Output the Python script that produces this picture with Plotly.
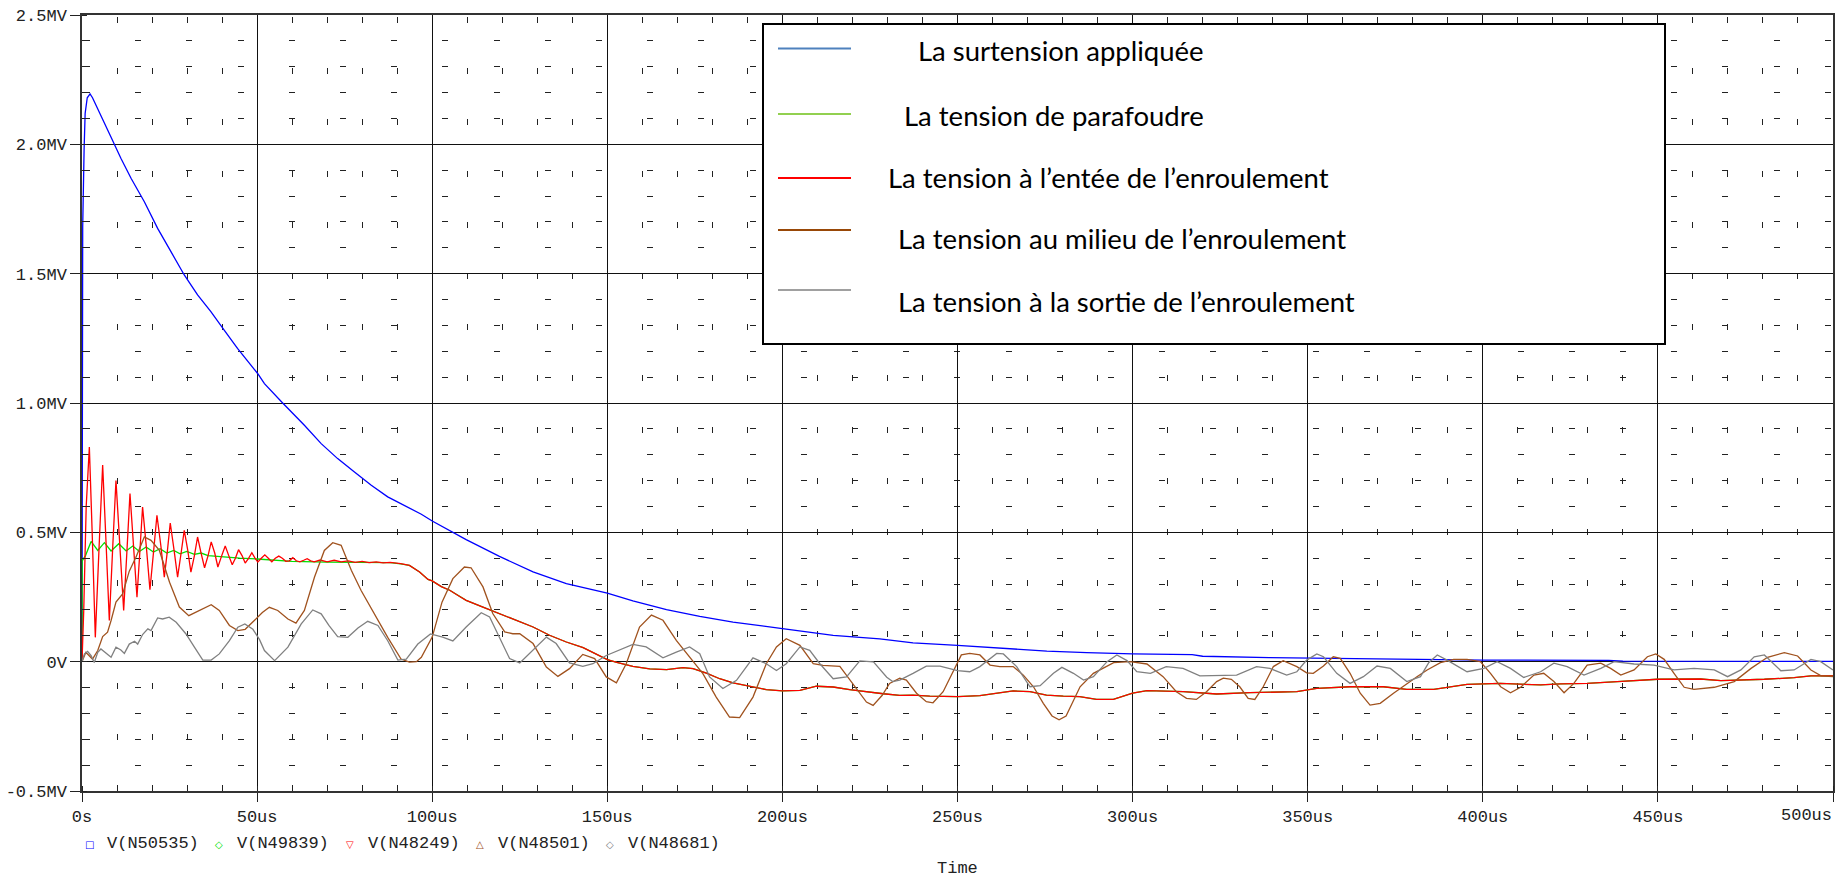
import plotly.graph_objects as go

# ---- transient simulation readings: time in microseconds, voltage in MV ----

t_surtension = [0, 0.1, 0.2, 0.6, 0.9, 1.5, 2.3, 3.0, 3.5, 5.4, 8.2, 11.1, 14.0, 17.8, 21.6,
                25.4, 29.2, 33.0, 36.8, 40.6, 44.4, 50.1, 52.1, 57.3, 63.5, 68.3, 73.0, 77.8,
                82.6, 87.3, 92.1, 96.9, 100, 109.7, 119.2, 128.8, 138.3, 150, 157.3, 166.9,
                176.4, 185.9, 200, 214.5, 227.8, 237.3, 250, 265.9, 275.5, 286.9, 300, 317,
                320, 339, 372, 400, 436, 440, 500]
v_surtension = [0, 0.9, 1.68, 1.98, 2.12, 2.18, 2.195, 2.18, 2.165, 2.113, 2.03, 1.946, 1.869,
                1.778, 1.675, 1.585, 1.495, 1.418, 1.353, 1.282, 1.211, 1.115, 1.075, 1.0,
                0.914, 0.843, 0.785, 0.733, 0.682, 0.637, 0.605, 0.57, 0.544, 0.472, 0.407,
                0.347, 0.302, 0.265, 0.235, 0.201, 0.175, 0.153, 0.128, 0.102, 0.088, 0.073,
                0.063, 0.049, 0.041, 0.035, 0.030, 0.027, 0.021, 0.016, 0.010, 0.006, 0.005,
                0.002, 0.001]

t_parafoudre = [0, 0.05, 1.0, 2.6, 4.5, 6.4, 8.3, 10.5, 12.6, 14.5, 16.4, 18.3, 20.4, 22.3,
                24.2, 26.2, 28.0, 29.9, 32.1, 34, 36, 40, 45, 50, 60, 70, 80, 88, 91, 93.5,
                96.4, 98.8, 100, 102.6, 105, 107.5, 109.7, 114.5, 119.2, 124, 128.8, 133.5,
                138.3, 143.1, 147.9, 150, 152.7, 157.3, 162.1, 166.9, 171.6, 174.5, 178.3,
                182.1, 185.9, 190.7, 195.4, 200, 205, 209.7, 214.5, 219.2, 224, 228.8, 233.5,
                237.3, 242.1, 250, 256.4, 261.1, 265.9, 270.7, 275.4, 280.2, 284.9, 289.7,
                294.5, 300, 304.1, 314.5, 324, 333.5, 346.9, 352.6, 362.1, 371.6, 378.3, 386,
                390.8, 395.5, 405, 416.5, 422.2, 429.8, 438.4, 449.9, 462.2, 468, 480.4,
                488.9, 493.7, 500]
v_parafoudre = [0, 0.39, 0.41, 0.465, 0.43, 0.46, 0.428, 0.456, 0.428, 0.447, 0.426, 0.443,
                0.424, 0.437, 0.42, 0.43, 0.417, 0.426, 0.415, 0.42, 0.41, 0.405, 0.40, 0.397,
                0.388, 0.385, 0.384, 0.383, 0.378, 0.372, 0.347, 0.318, 0.312, 0.29, 0.276,
                0.255, 0.237, 0.211, 0.186, 0.162, 0.134, 0.102, 0.076, 0.054, 0.024, 0.008,
                -0.003, -0.018, -0.028, -0.031, -0.023, -0.027, -0.044, -0.066, -0.082,
                -0.095, -0.108, -0.113, -0.111, -0.095, -0.098, -0.108, -0.117, -0.124,
                -0.130, -0.129, -0.133, -0.135, -0.131, -0.122, -0.113, -0.116, -0.129,
                -0.133, -0.135, -0.146, -0.146, -0.122, -0.112, -0.116, -0.125, -0.120,
                -0.116, -0.103, -0.097, -0.097, -0.107, -0.107, -0.097, -0.088, -0.084,
                -0.090, -0.086, -0.084, -0.077, -0.068, -0.067, -0.073, -0.068, -0.062,
                -0.055, -0.055]

t_entree = [0, 0.5, 1.2, 2.1, 2.9, 3.8, 4.9, 5.9, 6.9, 7.8, 8.8, 9.7, 10.8, 11.9, 12.8, 13.7,
            14.7, 15.7, 16.5, 17.3, 18.4, 19.4, 20.4, 21.4, 22.5, 23.5, 24.4, 25.2, 26.3,
            27.3, 28.3, 29.2, 30.2, 31.1, 32.1, 33.0, 34.0, 35.0, 36.0, 36.9, 37.9, 38.8,
            39.9, 40.9, 41.9, 42.9, 43.8, 44.7, 45.7, 46.6, 47.6, 48.5, 49.4, 50.2, 51.2,
            52.2, 53.2, 54.2, 55.2, 56.2, 57.2, 58.2, 59.2, 60.2, 61.2, 62.2, 63.3, 64.3,
            65.3, 66.3, 68, 70, 72, 74, 76, 78, 80, 82, 84, 86, 88, 90, 91, 93.5, 96.4, 98.8,
            100, 102.6, 105, 107.5, 109.7, 114.5, 119.2, 124, 128.8, 133.5, 138.3, 143.1,
            147.9, 150, 152.7, 157.3, 162.1, 166.9, 171.6, 174.5, 178.3, 182.1, 185.9,
            190.7, 195.4, 200, 205, 209.7, 214.5, 219.2, 224, 228.8, 233.5, 237.3, 242.1,
            250, 256.4, 261.1, 265.9, 270.7, 275.4, 280.2, 284.9, 289.7, 294.5, 300, 304.1,
            314.5, 324, 333.5, 346.9, 352.6, 362.1, 371.6, 378.3, 386, 390.8, 395.5, 405,
            416.5, 422.2, 429.8, 438.4, 449.9, 462.2, 468, 480.4, 488.9, 493.7, 500]
v_entree = [0, 0.2, 0.6, 0.83, 0.5, 0.094, 0.45, 0.76, 0.45, 0.159, 0.45, 0.70, 0.45, 0.198,
            0.42, 0.65, 0.45, 0.249, 0.42, 0.598, 0.44, 0.278, 0.42, 0.566, 0.45, 0.327, 0.43,
            0.536, 0.43, 0.327, 0.42, 0.508, 0.43, 0.346, 0.41, 0.482, 0.42, 0.363, 0.41,
            0.463, 0.42, 0.366, 0.41, 0.447, 0.41, 0.375, 0.40, 0.433, 0.41, 0.381, 0.40,
            0.421, 0.40, 0.385, 0.40, 0.413, 0.40, 0.386, 0.40, 0.408, 0.40, 0.388, 0.39,
            0.402, 0.39, 0.386, 0.392, 0.398, 0.39, 0.386, 0.393, 0.386, 0.392, 0.386, 0.39,
            0.384, 0.388, 0.383, 0.386, 0.382, 0.384, 0.382, 0.379, 0.372, 0.347, 0.318,
            0.312, 0.29, 0.276, 0.255, 0.237, 0.211, 0.186, 0.162, 0.134, 0.102, 0.076,
            0.054, 0.024, 0.008, -0.003, -0.018, -0.028, -0.031, -0.023, -0.027, -0.044,
            -0.066, -0.082, -0.095, -0.108, -0.113, -0.111, -0.095, -0.098, -0.108, -0.117,
            -0.124, -0.130, -0.129, -0.133, -0.135, -0.131, -0.122, -0.113, -0.116, -0.129,
            -0.133, -0.135, -0.146, -0.146, -0.122, -0.112, -0.116, -0.125, -0.120, -0.116,
            -0.103, -0.097, -0.097, -0.107, -0.107, -0.097, -0.088, -0.084, -0.090, -0.086,
            -0.084, -0.077, -0.068, -0.067, -0.073, -0.068, -0.062, -0.055, -0.055]

t_milieu = [0, 1.1, 3.0, 4.5, 5.9, 7.3, 8.3, 9.7, 11.6, 13.5, 15.4, 17.8, 19.7, 22.1, 25.0,
            27.8, 30.5, 33.5, 36.9, 39.2, 42.1, 44.5, 46.6, 49.2, 51.5, 53.5, 55.9, 58.8,
            61.1, 63.5, 66.4, 69.2, 71.6, 74.0, 76.9, 79.7, 83.5, 87.3, 91.1, 93.5, 95.5,
            96.9, 100, 102.8, 105.9, 109.2, 111.1, 114.5, 117.3, 120.7, 123, 125, 128.8,
            132.6, 135.9, 139.2, 143, 146.4, 149.7, 152.6, 155.4, 159.2, 162.6, 165.9,
            169.7, 173.5, 177.3, 181.1, 184.9, 187.8, 191.6, 195.4, 198.3, 201.1, 205,
            208.8, 211.6, 216.4, 220.2, 224, 225.9, 228.5, 230.6, 233.5, 235.4, 238.3,
            241.1, 243, 245.9, 248.8, 251.1, 253.5, 256.4, 259.3, 262.1, 265.9, 268.8,
            271.7, 274.5, 277, 279, 281, 285, 288.8, 294.6, 299.3, 304.1, 308.7, 312.5,
            315.4, 318.2, 321.1, 324, 325.9, 328.2, 330.6, 333, 334.9, 337.3, 340.2, 343,
            346.9, 349.7, 351.6, 354.5, 357.3, 359.3, 362.1, 365, 367.8, 370.7, 374.5,
            378.3, 381.2, 384.1, 387.9, 391.7, 395.5, 399.3, 402.2, 405.1, 407.9, 410.8,
            414.6, 417.4, 420.3, 423.2, 426, 429.8, 433.7, 436.5, 439.4, 443.2, 447, 449.4,
            451.8, 454.6, 457.5, 460.3, 466.1, 471.8, 476.6, 481.3, 486.1, 489.9, 493.7,
            496.6, 500]
v_milieu = [0, 0.036, 0.01, 0.043, 0.097, 0.114, 0.159, 0.23, 0.262, 0.35, 0.404, 0.482,
            0.469, 0.43, 0.307, 0.211, 0.178, 0.198, 0.22, 0.198, 0.14, 0.12, 0.125, 0.159,
            0.19, 0.21, 0.198, 0.165, 0.149, 0.198, 0.327, 0.43, 0.46, 0.45, 0.353, 0.275,
            0.185, 0.094, 0.01, -0.002, 0.0, 0.017, 0.095, 0.23, 0.321, 0.366, 0.363, 0.289,
            0.186, 0.115, 0.108, 0.108, 0.07, -0.021, -0.057, -0.027, 0.028, 0.012, -0.059,
            -0.082, -0.008, 0.134, 0.18, 0.16, 0.082, 0.018, -0.046, -0.137, -0.214,
            -0.216, -0.137, -0.008, 0.057, 0.089, 0.063, -0.008, -0.014, -0.018, -0.085,
            -0.156, -0.169, -0.13, -0.084, -0.064, -0.071, -0.122, -0.155, -0.159, -0.116,
            -0.039, 0.026, 0.032, 0.026, -0.013, -0.019, -0.019, -0.052, -0.097, -0.161,
            -0.21, -0.225, -0.21, -0.097, -0.045, -0.004, 0.0, -0.009, -0.058, -0.116,
            -0.142, -0.146, -0.116, -0.077, -0.064, -0.068, -0.097, -0.142, -0.146, -0.097,
            -0.019, 0.004, -0.019, -0.043, -0.045, -0.017, 0.019, 0.013, -0.045, -0.122,
            -0.168, -0.161, -0.122, -0.084, -0.058, -0.032, -0.004, 0.009, 0.009, 0.0,
            -0.045, -0.097, -0.12, -0.099, -0.052, -0.045, -0.077, -0.12, -0.084, -0.013,
            -0.006, -0.026, -0.052, -0.032, 0.019, 0.030, 0.009, -0.045, -0.099, -0.107,
            -0.099, -0.077, -0.026, 0.017, 0.035, 0.022, -0.032, -0.055, -0.058]

t_sortie = [0, 0.7, 1.6, 2.6, 3.5, 4.5, 5.4, 6.9, 8.3, 9.7, 11.1, 12.1, 13.5, 15.0, 15.9,
            17.3, 18.8, 19.7, 21.6, 23.0, 24.9, 26.9, 29.7, 32.1, 34.5, 36.9, 39.2, 42.1,
            44.5, 46.5, 48.8, 50.7, 52.1, 55.0, 58.8, 62.6, 65.9, 68.3, 70.5, 73.0, 75.9,
            78.8, 81.6, 84.5, 87.3, 90.2, 92.6, 95.9, 99.5, 103, 105.9, 109.7, 114.0, 116.4,
            119.2, 122.1, 125.0, 128.8, 132.6, 135.4, 139.2, 143.0, 145.9, 149.7, 153.5,
            157.3, 161.1, 165.9, 169.7, 173.5, 176.4, 179.2, 183.0, 186.9, 191.6, 195.4,
            198.3, 201.1, 205.0, 207.8, 210.7, 214.5, 218.3, 222.1, 226.0, 229.8, 231.5,
            233.5, 237.3, 241.1, 245.0, 250.0, 253.5, 256.4, 261.2, 263.1, 266.9, 270.7,
            273.6, 277.4, 279.8, 283.1, 286.0, 288.8, 292.7, 295.5, 298.4, 301.2, 305.1,
            309.6, 314.4, 319.2, 329.7, 335.4, 339.2, 344.0, 346.9, 349.7, 352.6, 354.5,
            358.3, 362.1, 365.9, 369.8, 373.6, 378.3, 382.2, 384.6, 387.0, 389.8, 395.5,
            400.3, 404.1, 407.9, 411.7, 416.5, 420.3, 424.1, 428.9, 433.7, 437.5, 443.2,
            448.9, 454.6, 460.3, 466.1, 469.9, 473.7, 477.5, 480.4, 485.1, 488.9, 493.7,
            496.5, 500]
v_sortie = [0, 0.03, 0.04, 0.023, -0.003, 0.036, 0.049, 0.032, 0.017, 0.056, 0.045, 0.032,
            0.068, 0.079, 0.068, 0.105, 0.127, 0.12, 0.169, 0.165, 0.172, 0.152, 0.107,
            0.056, 0.006, 0.006, 0.03, 0.081, 0.133, 0.146, 0.125, 0.085, 0.043, 0.004,
            0.056, 0.146, 0.2, 0.185, 0.14, 0.097, 0.094, 0.13, 0.156, 0.14, 0.081, 0.006,
            0.01, 0.068, 0.107, 0.095, 0.08, 0.134, 0.189, 0.173, 0.095, 0.012, -0.005,
            0.044, 0.095, 0.07, -0.005, -0.018, -0.008, 0.024, 0.046, 0.067, 0.057, 0.015,
            0.037, 0.057, 0.031, -0.059, -0.104, -0.072, 0.015, -0.008, -0.034, -0.008,
            0.057, 0.044, -0.008, -0.066, -0.059, 0.003, -0.001, -0.06, -0.077, -0.071,
            -0.045, -0.017, -0.017, -0.035, -0.039, -0.019, 0.032, 0.030, -0.019, -0.097,
            -0.093, -0.045, -0.022, -0.045, -0.071, -0.058, 0.0, 0.026, 0.004, -0.039,
            -0.045, -0.019, -0.026, -0.055, -0.052, -0.019, -0.026, -0.052, -0.039, 0.006,
            0.030, 0.019, -0.045, -0.084, -0.058, -0.017, -0.026, -0.077, -0.058, -0.003,
            0.026, 0.006, -0.039, -0.026, 0.0, -0.026, -0.061, -0.039, -0.006, -0.019,
            -0.052, -0.026, 0.0, -0.009, -0.013, -0.032, -0.026, -0.032, -0.058, -0.032,
            0.019, 0.026, -0.035, -0.032, 0.009, 0.0, -0.032]

# axis ticks (the last time label is right-aligned on the frame edge, drawn separately)
x_tick_values = [0, 50, 100, 150, 200, 250, 300, 350, 400, 450, 500]
x_tick_labels = ["0s", "50us", "100us", "150us", "200us", "250us", "300us", "350us",
                 "400us", "450us", ""]
x_end_label = "500us"
y_tick_values = [-0.5, 0, 0.5, 1.0, 1.5, 2.0, 2.5]
y_tick_labels = ["-0.5MV", "0V", "0.5MV", "1.0MV", "1.5MV", "2.0MV", "2.5MV"]

# probe legend below the plot and descriptive legend box
probe_names = ["V(N50535)", "V(N49839)", "V(N48249)", "V(N48501)", "V(N48681)"]
probe_symbols = ["\u25a1", "\u25c7", "\u25bd", "\u25b3", "\u25c7"]
series_labels = ["La surtension appliquée", "La tension de parafoudre",
                 "La tension à l\u2019entée de l\u2019enroulement",
                 "La tension au milieu de l\u2019enroulement",
                 "La tension à la sortie de l\u2019enroulement"]

trace_colors = ["#0000ff", "#00e000", "#ff0000", "#a0521e", "#808080"]
box_colors = ["#4f81bd", "#92d050", "#ff0000", "#984807", "#a0a0a0"]

# ---- figure geometry (pixels) ----
W_FIG, H_FIG = 1848, 880
L, T, R, B = 82, 15, 15, 89
PW, PH = W_FIG - L - R, H_FIG - T - B


def px(x):
    return (x - L) / PW


def py(y):
    return (T + PH - y) / PH


fig = go.Figure()
series = [(t_surtension, v_surtension), (t_parafoudre, v_parafoudre),
          (t_entree, v_entree), (t_milieu, v_milieu), (t_sortie, v_sortie)]
for (t, v), col, name in zip(series, trace_colors, probe_names):
    fig.add_trace(go.Scatter(x=t, y=v, mode="lines", name=name,
                             line=dict(color=col, width=1.3),
                             showlegend=False, hoverinfo="skip"))

mono = dict(family="Liberation Mono, Courier New, monospace", size=17, color="#222222")
dash_pattern = "0px,2px,6px,43.2px"

fig.update_xaxes(range=[0, 500], tickmode="array", tickvals=x_tick_values,
                 ticktext=x_tick_labels, tickfont=mono, ticks="outside", ticklen=9,
                 tickcolor="#222222", showline=True, linecolor="#333333", linewidth=1.5,
                 mirror=True, showgrid=True, gridcolor="#111111", gridwidth=1,
                 zeroline=False, automargin=False,
                 minor=dict(tickmode="linear", tick0=0, dtick=10, showgrid=True,
                            gridcolor="#222222", gridwidth=1, griddash=dash_pattern,
                            ticks="inside", ticklen=5, tickcolor="#222222"))
fig.update_yaxes(range=[-0.5, 2.5], tickmode="array", tickvals=y_tick_values,
                 ticktext=y_tick_labels, tickfont=mono, ticks="outside", ticklen=10,
                 tickcolor="#222222", showline=True, linecolor="#333333", linewidth=1.5,
                 mirror=True, showgrid=True, gridcolor="#111111", gridwidth=1,
                 zeroline=False, automargin=False,
                 minor=dict(tickmode="linear", tick0=0, dtick=0.1, showgrid=True,
                            gridcolor="#222222", gridwidth=1, griddash=dash_pattern,
                            ticks="inside", ticklen=5, tickcolor="#222222"))

annotations = []
shapes = []

# end-of-axis time label, right-aligned to the frame
annotations.append(dict(text=x_end_label, x=1.0, y=py(815.5), xref="paper", yref="paper",
                        showarrow=False, font=mono, xanchor="right", yanchor="middle",
                        borderpad=0))

# x-axis title
annotations.append(dict(text="Time", x=px(957.5), y=py(868), xref="paper", yref="paper",
                        showarrow=False, font=mono, xanchor="center", yanchor="middle",
                        borderpad=0))

# probe legend row
sym_x = [89, 219.4, 349.5, 479.6, 609.7]
for sx, sym, col, name in zip(sym_x, probe_symbols, trace_colors, probe_names):
    annotations.append(dict(text=sym, x=px(sx), y=py(844), xref="paper", yref="paper",
                            showarrow=False, xanchor="center", yanchor="middle",
                            font=dict(family="DejaVu Sans", size=10, color=col)))
    annotations.append(dict(text=name, x=px(sx + 16), y=py(843.5), xref="paper",
                            yref="paper", showarrow=False, xanchor="left",
                            yanchor="middle", font=mono))

# descriptive legend box
shapes.append(dict(type="rect", xref="paper", yref="paper", x0=px(763), x1=px(1665),
                   y0=py(344), y1=py(24), fillcolor="white",
                   line=dict(color="black", width=2), layer="above"))
line_y = [48.5, 114, 178, 230, 290]
text_y = [51, 116, 177, 238.5, 301]
text_x = [916, 902, 886, 896, 896]
for ly, ty, tx, col, lab in zip(line_y, text_y, text_x, box_colors, series_labels):
    shapes.append(dict(type="line", xref="paper", yref="paper", x0=px(778), x1=px(851),
                       y0=py(ly), y1=py(ly), line=dict(color=col, width=2),
                       layer="above"))
    annotations.append(dict(text=lab, x=px(tx), y=py(ty), xref="paper", yref="paper",
                            showarrow=False, xanchor="left", yanchor="middle",
                            font=dict(family="Lato", size=27.5, color="black")))

fig.update_layout(width=W_FIG, height=H_FIG, margin=dict(l=L, r=R, t=T, b=B,
                                                         autoexpand=False),
                  paper_bgcolor="white", plot_bgcolor="white",
                  annotations=annotations, shapes=shapes, showlegend=False)

fig.write_html("out.html")
